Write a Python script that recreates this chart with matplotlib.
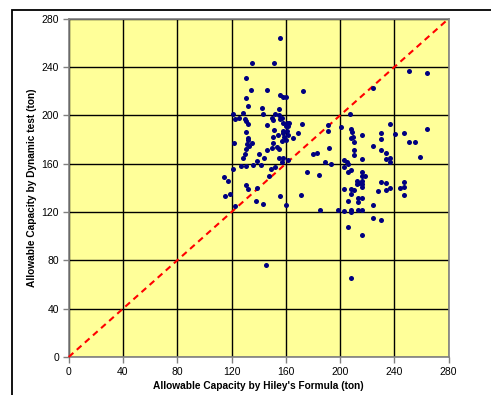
import matplotlib.pyplot as plt
from matplotlib.patches import Rectangle

plt.rcParams['font.family'] = ['Liberation Sans', 'DejaVu Sans']

# Hiley's formula capacity (x) vs dynamic test capacity (y), in ton
hiley = [
    155.7, 135.3, 151.3, 130.9, 134.1, 146.4, 172.9, 155.5, 157.7, 159.9,
    130.4, 131.9, 142.4, 154.7, 128.2, 121.3, 143.0, 152.3, 155.0, 157.0,
    122.5, 125.5, 130.1, 130.7, 131.9, 150.0, 150.3, 155.7, 158.1, 160.6,
    162.3, 159.9, 161.8, 146.4, 171.9, 130.9, 151.5, 158.1, 157.7, 160.6,
    161.8, 158.9, 154.5, 168.8, 150.3, 132.4, 165.1,
    122.0, 131.9, 135.1, 133.1, 131.2, 130.4, 129.7, 128.7, 150.8, 150.0,
    153.7, 154.7, 145.9, 140.0, 143.9, 138.5, 127.2, 130.4, 135.6, 141.9,
    154.7, 157.7, 161.6, 157.2, 121.3, 148.9, 152.0, 147.8, 114.4, 117.6,
    130.4, 131.9, 139.0, 115.0, 118.9, 155.9, 171.4, 138.3, 143.0, 159.9,
    122.5, 145.6, 160.1, 157.2,
    224.5, 207.3, 191.3, 200.9, 191.3, 208.0, 208.5, 216.1, 209.7, 208.0,
    210.2, 230.1, 224.5, 191.6, 180.3, 183.2, 210.2, 210.2, 230.1, 216.1,
    189.1, 193.5, 202.9, 204.9, 205.8, 202.9, 207.8, 206.0, 175.8, 184.7,
    216.1, 216.1, 218.6, 202.9, 208.3, 210.5, 208.0, 212.7, 216.1, 212.7,
    216.1, 216.1, 214.2, 227.7, 230.1, 205.6, 213.0, 216.1, 213.0, 224.5,
    185.0, 198.5, 202.9, 208.0, 208.0, 213.0, 216.1, 224.5, 205.6, 216.1,
    208.0, 230.1,
    250.8, 263.8, 237.0, 230.1, 240.2, 247.1, 263.8, 250.8, 255.0, 234.0,
    234.0, 237.0, 237.0, 258.7,
    234.0, 234.0, 237.0, 243.9, 247.1, 247.3, 247.1,
]
dynamic = [
    264.0, 243.0, 243.0, 231.0, 221.0, 221.0, 220.0, 217.0, 215.0, 215.0,
    214.0, 208.0, 206.0, 205.0, 202.0, 201.0, 201.0, 201.0, 200.0, 198.0,
    197.0, 198.0, 197.0, 195.0, 193.0, 198.0, 196.0, 197.0, 194.0, 194.0,
    194.0, 191.0, 191.0, 192.0, 193.0, 186.0, 188.0, 187.0, 185.0, 187.0,
    184.0, 182.0, 184.0, 185.0, 182.0, 181.0, 181.0,
    177.0, 180.0, 177.0, 175.0, 176.0, 172.0, 168.0, 165.0, 177.0, 173.0,
    174.0, 172.0, 171.0, 168.0, 165.0, 162.0, 158.0, 158.0, 159.0, 159.0,
    165.0, 165.0, 163.0, 161.0, 156.0, 156.0, 157.0, 150.0, 149.0, 146.0,
    142.0, 139.0, 140.0, 133.0, 135.0, 133.0, 134.0, 129.0, 127.0, 126.0,
    125.0, 76.0, 180.0, 179.0,
    223.0, 201.0, 192.0, 190.0, 187.0, 188.5, 186.5, 184.0, 182.0, 181.0,
    178.0, 185.0, 175.0, 173.0, 168.0, 169.0, 171.0, 167.0, 171.0, 164.0,
    161.0, 160.0, 163.0, 161.0, 160.0, 157.0, 155.0, 153.0, 153.0, 151.0,
    153.0, 150.0, 150.0, 139.0, 139.0, 138.0, 135.0, 146.0, 146.0, 143.0,
    143.0, 140.5, 144.0, 137.0, 145.0, 129.0, 131.6, 131.6, 128.0, 126.0,
    122.0, 122.0, 121.0, 122.0, 120.0, 122.0, 122.0, 115.0, 108.0, 101.0,
    65.0, 113.5,
    236.5, 235.0, 192.6, 180.5, 184.6, 185.0, 189.0, 178.0, 178.0, 169.0,
    164.0, 164.5, 161.0, 165.6,
    144.0, 138.0, 140.0, 140.0, 140.5, 144.6, 134.0,
]
ticks = [0, 40, 80, 120, 160, 200, 240, 280]

fig = plt.figure(figsize=(4.91, 3.95), dpi=100)
ax = fig.add_axes([0.1399, 0.0962, 0.7739, 0.8565])

# chart-area border (left and top edges visible)
fig.patches.append(Rectangle((12 / 491, -0.1), 1.2, (395 - 10) / 395 + 0.1,
                             transform=fig.transFigure, fill=False,
                             edgecolor='black', linewidth=1.3))

ax.set_facecolor('#FFFF99')
ax.set_xlim(0, 280)
ax.set_ylim(0, 280)
ax.set_xticks(ticks)
ax.set_yticks(ticks)
ax.grid(True, color='black', linewidth=1.0)
ax.set_axisbelow(True)
for sp in ax.spines.values():
    sp.set_color('#808080')
    sp.set_linewidth(1.2)
ax.tick_params(direction='out', length=4, width=1, color='#808080',
               labelsize=7.5, pad=3)

ax.plot([0, 280], [0, 280], color='red', linestyle=(0, (3, 2.2)),
        linewidth=1.5, zorder=3, clip_on=False)
ax.scatter(hiley, dynamic, s=13, color='#000080', zorder=4, linewidths=0)

ax.set_xlabel("Allowable Capacity by Hiley's Formula (ton)",
              fontsize=7.3, fontweight='bold', labelpad=3)
ax.set_ylabel('Allowable Capacity by Dynamic test (ton)',
              fontsize=7.3, fontweight='bold', labelpad=3)

fig.savefig('out.png', dpi=100)
